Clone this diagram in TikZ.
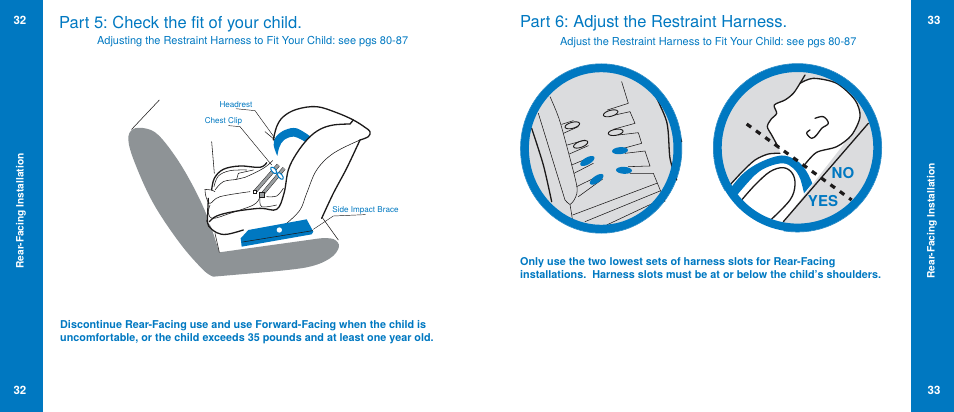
\documentclass[tikz,border=0pt]{standalone}
\usepackage{fontspec}
\setmainfont{TeX Gyre Heros}
\frenchspacing
\usepackage{tikz}
\usetikzlibrary{shapes.geometric,positioning}
\definecolor{GuideBlue}{HTML}{0078C1}
\definecolor{SeatGrey}{HTML}{8E9396}
\definecolor{CircleGrey}{HTML}{DBDCDE}
\definecolor{StrapGrey}{HTML}{9A9EA0}
\definecolor{InkBlack}{HTML}{1C1A1A}
\newcommand\TitleSize{\fontsize{16.5}{20}\selectfont}
\newcommand\SubSize{\fontsize{11}{12}\selectfont}
\newcommand\BodySize{\fontsize{10.8}{13}\selectfont\bfseries}
\newcommand\TagSize{\fontsize{8.1}{9}\selectfont}
\newcommand\SideSize{\fontsize{10.2}{11}\selectfont\bfseries}
\newcommand\NumSize{\fontsize{11.5}{12}\selectfont\bfseries}
\tikzstyle{sidebar}=[fill=GuideBlue,draw=none]
\tikzstyle{pagenum}=[text=white,font=\NumSize,inner sep=0]
\tikzstyle{sidetext}=[text=white,font=\SideSize,inner sep=0,rotate=90]
\tikzstyle{title}=[text=GuideBlue,font=\TitleSize,anchor=base west,inner sep=0]
\tikzstyle{subtitle}=[text=GuideBlue,font=\SubSize,anchor=base west,inner sep=0]
\tikzstyle{bodytext}=[text=GuideBlue,font=\BodySize,anchor=base west,inner sep=0]
\tikzstyle{tag}=[text=GuideBlue,font=\TagSize,inner sep=0]
\tikzstyle{answer}=[text=GuideBlue,font=\fontsize{15}{15}\selectfont\bfseries,inner sep=0]
\tikzstyle{ink}=[draw=InkBlack,line width=1.3pt,line join=round,line cap=round]
\tikzstyle{thinink}=[draw=InkBlack,line width=0.55pt,line join=round,line cap=round]
\tikzstyle{leader}=[draw=InkBlack,line width=0.45pt]
\tikzstyle{ring}=[draw=GuideBlue,line width=8.2pt]
\tikzstyle{slot}=[ellipse,draw=InkBlack,line width=0.9pt,inner sep=0,minimum width=15pt,minimum height=6pt]
\tikzstyle{blueslot}=[ellipse,fill=GuideBlue,inner sep=0,minimum width=16pt,minimum height=7pt]
\tikzstyle{clip}=[ellipse,draw=GuideBlue,fill=white,line width=1pt,inner sep=0,minimum width=8pt,minimum height=4pt]

\begin{document}
\begin{tikzpicture}[x=1pt,y=-1pt]
      \useasboundingbox (0,0) rectangle (954,412);
      % side bars
      \fill[sidebar] (0,0) rectangle (43,412);
      \fill[sidebar] (911,0) rectangle (954,412);
      \node[pagenum] (numTL) at (20,20) {32};
      \node[pagenum] (numBL) at (20,390) {32};
      \node[pagenum] (numTR) at (934,20) {33};
      \node[pagenum] (numBR) at (934,390) {33};
      \node[sidetext] (sideL) at (21,211) {Rear-Facing Installation};
      \node[sidetext] (sideR) at (932,221) {Rear-Facing Installation};
      % headings
      \node[title] (partfive) at (59,29) {Part 5: Check the fit of your child.};
      \node[subtitle] (subfive) at (97,45) {Adjusting the Restraint Harness to Fit Your Child: see pgs 80-87};
      \node[title] (partsix) at (520,28) {Part 6: Adjust the Restraint Harness.};
      \node[subtitle] (subsix) at (560,46) {Adjust the Restraint Harness to Fit Your Child: see pgs 80-87};
      \node[bodytext] (noteA) at (60,328) {Discontinue Rear-Facing use and use Forward-Facing when the child is};
      \node[bodytext] (noteB) at (60,341) {uncomfortable, or the child exceeds 35 pounds and at least one year old.};
      \node[bodytext] (noteC) at (520,265) {Only use the two lowest sets of harness slots for Rear-Facing};
      \node[bodytext] (noteD) at (520,278) {installations.\ \ Harness slots must be at or below the child’s shoulders.};
      % car seat
      \begin{scope}[shift={(120,90)},scale=1/3]
            \draw[thinink] (118,30) -- (35,118);
            \fill[SeatGrey] plot[smooth,tension=.6] coordinates {(298,487) (262,380) (220,290) (170,205) (115,135) (75,115) (38,118) (25,150) (45,220) (100,340) (180,460) (250,540) (280,560)}
                  -- plot[smooth,tension=.6] coordinates {(420,548) (560,532) (630,505) (657,470) (640,447) (600,445)} -- cycle;
            \draw[thinink] (285,430) -- (298,487);
            \draw[thinink] (605,380) -- (655,450);
            \draw[thinink] (275,155) -- (283,250);
            % shell
            \fill[white] (262,395) -- (290,428) -- (320,433) -- (520,395) -- (605,385) -- (720,150) -- (750,125) -- (700,88) -- (590,50) -- (530,58) -- (490,80) -- (465,130) -- (458,190) -- (440,218) -- (360,228) -- (310,235) -- (275,290) -- cycle;
            \draw[thinink] (435,125) -- (465,150);
            \fill[GuideBlue] plot[smooth,tension=.6] coordinates {(472,198) (461,165) (468,140) (495,120) (530,115) (572,140)}
                  -- plot[smooth,tension=.6] coordinates {(555,155) (522,140) (492,150) (478,172) (472,198)} -- cycle;
            \draw[ink] plot[smooth,tension=.6] coordinates {(460,150) (470,110) (490,80) (530,58) (590,50) (650,68) (700,90) (735,112) (750,125) (745,140) (720,150)};
            \draw[ink] (700,90) -- (690,102);
            \draw[ink] plot[smooth,tension=.6] coordinates {(690,102) (640,105) (600,118) (565,145) (530,190) (505,240) (492,310) (470,358) (420,355) (340,365) (290,378) (268,395)};
            \draw[ink] plot[smooth,tension=.5] coordinates {(720,150) (680,235) (640,310) (605,385)};
            \draw[ink] plot[smooth,tension=.6] coordinates {(262,390) (266,408) (290,428) (320,433) (370,420)};
            \draw[ink] (262,395) -- (265,325);
            \draw[ink] plot[smooth,tension=.6] coordinates {(275,300) (283,265) (310,238) (360,228) (420,232) (440,218)};
            \draw[thinink] plot[smooth,tension=.6] coordinates {(282,290) (295,258) (330,242) (380,240)};
            \draw[thinink] plot[smooth,tension=.6] coordinates {(500,400) (540,360) (560,310) (590,240) (640,190) (720,150)};
            % child
            \draw[thinink] plot[smooth,tension=.6] coordinates {(255,298) (258,320) (270,340) (300,320) (390,305)};
            \draw[thinink] (255,298) -- (275,300) -- (285,305);
            \draw[thinink] plot[smooth,tension=.6] coordinates {(285,300) (310,275) (350,268) (375,262) (430,235) (458,212)};
            \draw[thinink] plot[smooth,tension=.6] coordinates {(270,345) (265,370) (280,385) (330,370) (400,345) (418,325)};
            \draw[thinink] plot[smooth,tension=.6] coordinates {(420,322) (425,350) (470,345)};
            \draw[thinink] plot[smooth,tension=.6] coordinates {(440,320) (470,318) (490,295)};
            \draw[thinink] (350,268) -- (355,250) -- (400,240);
            % straps
            \draw[InkBlack,line width=3.6pt] (405,305) -- (475,225);
            \draw[StrapGrey,line width=2.7pt] (405,305) -- (475,225);
            \draw[InkBlack,line width=3.6pt] (425,315) -- (492,235);
            \draw[StrapGrey,line width=2.7pt] (425,315) -- (492,235);
            \node[clip,rotate=-50] (clipA) at (461,241) {};
            \node[clip,rotate=-50] (clipB) at (481,258) {};
            \draw[GuideBlue,line width=1.2pt] (clipA) -- (clipB);
            \fill[white,draw=InkBlack,line width=0.4pt] (400,302) rectangle (409,311);
            \fill[StrapGrey,draw=InkBlack,line width=0.4pt] (418,308) rectangle (432,322);
            % brace
            \fill[GuideBlue] (362,445) -- (385,420) -- (560,388) -- (580,425) -- (575,433) -- (365,470) -- cycle;
            \draw[thinink] (368,456) -- (578,422);
            \fill[white] (478,420) circle (8);
            % leaders
            \coordinate (headtip) at (465,145);
            \coordinate (cliptip) at (455,225);
            \coordinate (bracetip) at (580,418);
            \coordinate (headbend) at (405,62);
            \coordinate (clipbend) at (360,110);
            \coordinate (bracebend) at (640,378);
      \end{scope}
      \node[tag] (headrest) at (236,105) {Headrest};
      \node[tag] (chestclip) at (223.5,121) {Chest Clip};
      \node[tag] (sidebrace) at (365.5,210) {Side Impact Brace};
      \draw[leader] (headrest.south) ++(0,0.5) -- (headbend) -- (headtip);
      \draw[leader] (chestclip.south) ++(5,0.5) -- (clipbend) -- (cliptip);
      \draw[leader] (sidebrace.south) ++(0,0.5) -- (bracebend) -- (bracetip);
      % harness slots
      \begin{scope}
            \clip (601.2,148.5) ellipse (80.5 and 84.5);
            \fill[CircleGrey] (601.2,148.5) ellipse (80.5 and 84.5);
            \begin{scope}[shift={(510,85)},scale=1/3]
                  \draw[ink] plot[smooth,tension=.5] coordinates {(65,130) (100,240) (125,350)};
                  \draw[ink] plot[smooth,tension=.5] coordinates {(425,10) (470,110) (480,220) (500,285)};
                  \draw[ink] (500,130) -- (515,170);
                  \draw[thinink] (85,85) -- (165,345);
                  \draw[thinink] plot[smooth,tension=.4] coordinates {(120,35) (150,110) (200,300) (195,340) (180,358) (165,345)};
                  \draw[thinink] (180,358) -- (190,420);
                  \draw[thinink] (335,-10) -- (355,55) -- (292,75);
                  \draw[thinink] (315,90) -- (360,80) -- (375,115) -- (310,133);
                  \draw[thinink] (325,150) -- (385,143) -- (395,175) -- (340,190);
                  \draw[thinink] (345,205) -- (405,198) -- (420,243) -- (355,245);
                  \draw[thinink] (360,265) -- (430,265) -- (465,350);
                  \draw[thinink] (155,118) -- (190,107);
                  \draw[thinink] (160,145) -- (205,125);
                  \draw[thinink] (172,180) -- (225,165);
                  \draw[thinink] (178,207) -- (235,182);
                  \draw[thinink] (185,240) -- (245,215);
                  \draw[thinink] (192,265) -- (250,235);
                  \draw[thinink] (200,305) -- (275,268);
                  \draw[thinink] (205,335) -- (278,282);
                  \draw[thinink] (188,390) -- (440,295);
                  \draw[thinink] (225,410) -- (450,318);
                  \draw[thinink] (290,420) -- (460,340);
                  \foreach \px/\py/\rot in {187/121/15,212/178/20,302/85/15,317/142/10}
                        \node[slot,rotate=\rot] at (\px,\py) {};
                  \foreach \px/\py/\rot in {232/228/30,260/283/35,330/197/5,342/256/-3}
                        \node[blueslot,rotate=\rot] at (\px,\py) {};
            \end{scope}
      \end{scope}
      \draw[ring] (601.2,148.5) ellipse (76.4 and 80.4);
      % child profile
      \begin{scope}
            \clip (797.5,147.8) circle (84);
            \fill[CircleGrey] (797.5,147.8) circle (84);
            \begin{scope}[shift={(705,85)},scale=1/3]
                  \fill[white] plot[smooth,tension=.5] coordinates {(265,25) (240,45) (208,60) (215,85) (198,103) (187,125) (200,150) (222,190) (225,205)}
                        -- plot[smooth,tension=.5] coordinates {(190,207) (150,225) (110,262) (75,300)}
                        -- (40,340) -- (150,460) -- (235,460) -- (235,410) -- (420,172)
                        -- plot[smooth,tension=.5] coordinates {(440,150) (465,95) (450,45) (395,-5) (325,-20) (285,-5) (265,25)} -- cycle;
                  \fill[GuideBlue] plot[smooth,tension=.6] coordinates {(72,315) (110,270) (150,240) (200,218) (240,212) (280,230) (305,260) (322,295)}
                        -- plot[smooth,tension=.6] coordinates {(297,325) (285,280) (265,250) (235,235) (190,245) (150,270) (98,328)} -- cycle;
                  \draw[ink] plot[smooth,tension=.6] coordinates {(110,345) (150,300) (195,260) (235,248) (262,265) (270,300) (255,345) (197,405)};
                  \draw[ink] plot[smooth,tension=.5] coordinates {(75,300) (110,262) (150,225) (190,207) (225,205)};
                  \draw[ink] plot[smooth,tension=.5] coordinates {(300,-30) (285,-5) (265,25) (240,45) (208,60) (215,85) (198,103) (187,125) (200,150) (222,190)};
                  \draw[ink] plot[smooth,tension=.5] coordinates {(300,238) (335,202) (395,185) (440,150) (465,95) (450,45) (395,-5) (325,-20) (285,-5)};
                  \draw[ink] (235,410) -- (490,115);
                  \draw[ink] plot[smooth,tension=.6] coordinates {(315,135) (305,145) (320,160) (335,150) (350,130) (370,115) (355,95) (330,100)};
                  \coordinate (dashstart) at (125,117);
                  \coordinate (dashend) at (440,345);
                  \draw[InkBlack,line width=3.2pt,dash pattern=on 5.5pt off 6pt] (dashstart) -- (dashend);
            \end{scope}
      \end{scope}
      \draw[ring] (797.5,147.8) circle (79.9);
      \node[answer] (no) at (843,173) {NO};
      \node[answer] (yes) at (823,201) {YES};
\end{tikzpicture}
\end{document}
